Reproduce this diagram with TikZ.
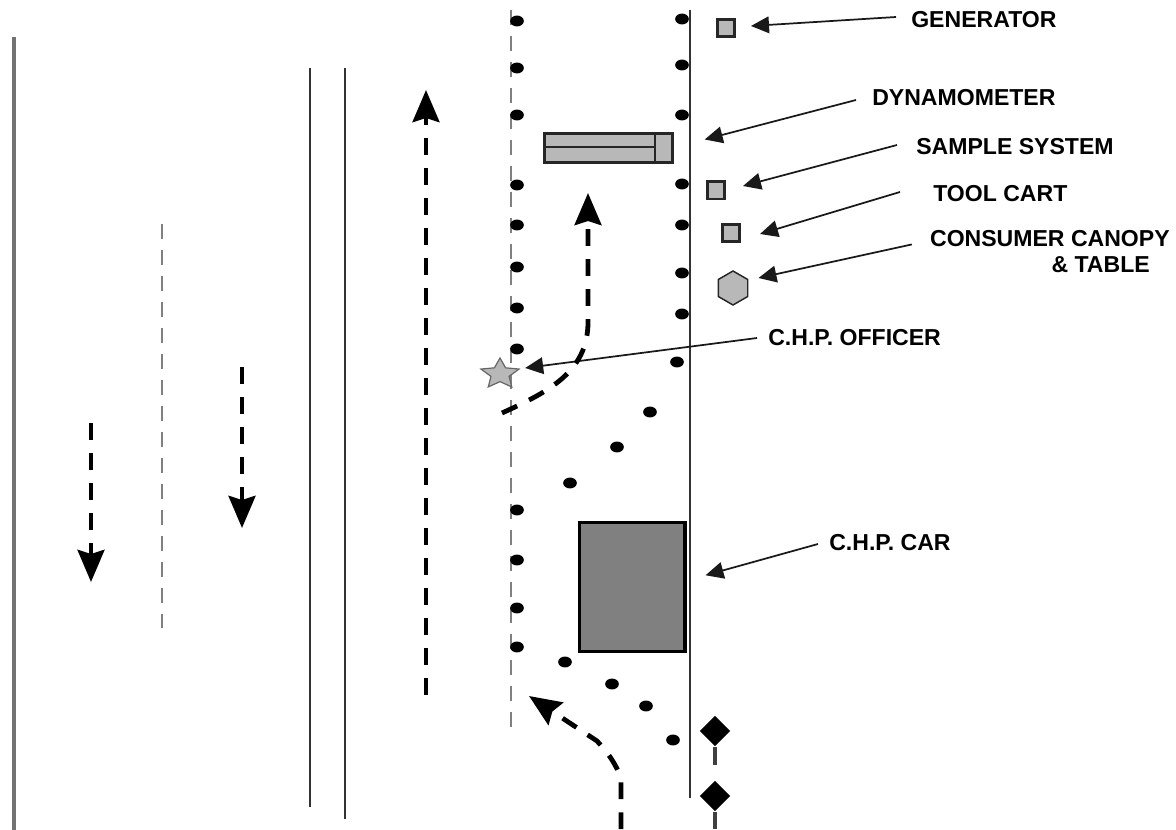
\documentclass[tikz,border=0pt]{standalone}
\usepackage{fontspec}
\setmainfont{Liberation Sans}
\usetikzlibrary{arrows.meta,shapes.geometric}
\definecolor{fillgray}{gray}{0.72}
\definecolor{cargray}{gray}{0.5}
\definecolor{dashgray}{gray}{0.5}
\tikzset{
  x=0.75pt,y=-0.75pt,
  lbl/.style={font=\bfseries\fontsize{17.3pt}{19.5pt}\selectfont,inner sep=0pt,align=left},
  dot/.style={circle,fill=black,minimum size=8.2pt,inner sep=0pt,xscale=1.25},
  road/.style={draw=black!80,line width=1.3pt},
  laneline/.style={draw=dashgray,line width=0.8pt,dash pattern=on 11pt off 8.5pt},
  pointer/.style={draw=black!90,line width=1.3pt,-{Triangle[length=13.5pt,width=12.5pt]}},
  flow/.style={draw=black,line width=3.6pt,dash pattern=on 12.5pt off 10pt,-{Stealth[length=24pt,width=20pt,inset=3pt]}},
  box/.style={draw=black!85,fill=fillgray,line width=2pt,inner sep=0pt,minimum size=13pt},
  diam/.style={diamond,fill=black,inner sep=0pt,minimum width=23pt,minimum height=23pt},
  stem/.style={draw=black!75,line width=3.4pt},
}
\begin{document}
\begin{tikzpicture}
\useasboundingbox (0,0) rectangle (1176,830);
% road lines
\coordinate (a1) at (14,37); \coordinate (a2) at (14,830);
\coordinate (b1) at (310,68); \coordinate (b2) at (310,807);
\coordinate (c1) at (345,68); \coordinate (c2) at (345,819);
\coordinate (d1) at (690,10); \coordinate (d2) at (690,798);
\coordinate (e1) at (511,10); \coordinate (e2) at (511,730);
\coordinate (f1) at (162,224); \coordinate (f2) at (162,628);
\draw[draw=black!55,line width=2.6pt] (a1) -- (a2);
\draw[road] (b1) -- (b2);
\draw[road] (c1) -- (c2);
\draw[road,line width=1.9pt] (d1) -- (d2);
\draw[laneline] (e1) -- (e2);
\draw[laneline] (f1) -- (f2);
% traffic cones
\foreach \n/\x/\y in {l1/517/21,l2/517/68,l3/517/115,l4/517/185,l5/517/225,l6/517/267,l7/517/308,l8/517/349,
 l9/517/510,l10/517/560,l11/517/608,l12/517/647,
 r1/682/19,r2/682/65,r3/682/115,r4/682/184,r5/682/225,r6/682/273,r7/682/314,
 r8/677/362,r9/650/412,r10/617/447,r11/570/483,
 s1/565/662,s2/612/684,s3/646/706,s4/673/740}
  \node[dot] (\n) at (\x,\y) {};
% dynamometer
\node[box,minimum width=96pt,minimum height=22pt,anchor=north west] (dyn) at (543,132) {};
\coordinate (dynA) at (543,147); \coordinate (dynB) at (655,147);
\coordinate (dynC) at (655,132); \coordinate (dynD) at (655,161);
\draw[black!85,line width=2.2pt] (dynA) -- (dynB);
\draw[black!85,line width=2.2pt] (dynC) -- (dynD);
% equipment
\node[box] (gen) at (726,28) {};
\node[box] (sam) at (716,190.5) {};
\node[box] (tool) at (731,233) {};
\node[regular polygon,regular polygon sides=6,shape border rotate=30,draw=black!85,fill=fillgray,line width=1.1pt,inner sep=0pt,minimum size=25.5pt] (hex) at (733,288) {};
\node[star,star points=5,star point ratio=2.1,draw=black!60,fill=fillgray,line width=0.9pt,inner sep=0pt,minimum size=30pt,yscale=0.8] (off) at (500,374) {};
\node[rectangle,draw=black,fill=cargray,line width=2.4pt,minimum width=79pt,minimum height=97pt,inner sep=0pt,anchor=north west] (car) at (578,520.5) {};
% diamonds
\node[diam] (k1) at (715,731) {};
\node[diam] (k2) at (715,796) {};
\coordinate (k1e) at (715,765); \coordinate (k2e) at (715,829);
\draw[stem] (k1) -- (k1e);
\draw[stem] (k2) -- (k2e);
% labels
\node[lbl,anchor=west] (tgen) at (911,19.5) {GENERATOR};
\node[lbl,anchor=west] (tdyn) at (872,98) {DYNAMOMETER};
\node[lbl,anchor=west] (tsam) at (916,146.5) {SAMPLE SYSTEM};
\node[lbl,anchor=west] (ttool) at (933,194) {TOOL CART};
\node[lbl,anchor=north east,align=right] (tcan) at (1170,230) {CONSUMER CANOPY\\\& TABLE\hspace*{15pt}};
\node[lbl,anchor=west] (toff) at (768,338) {C.H.P. OFFICER};
\node[lbl,anchor=west] (tcar) at (829,543) {C.H.P. CAR};
% pointers
\draw[pointer] ([shift={(-15,-2.5)}]tgen.west) -- ([shift={(15,-2)}]gen.east);
\draw[pointer] ([shift={(-16,2)}]tdyn.west) -- ([shift={(31,-8.5)}]dyn.east);
\draw[pointer] ([shift={(-19,-1.5)}]tsam.west) -- ([shift={(17,-4.5)}]sam.east);
\draw[pointer] ([shift={(-33,-2)}]ttool.west) -- ([shift={(19,1)}]tool.east);
\draw[pointer] ([shift={(-18,-7)}]tcan.west) -- ([shift={(10,-10)}]hex.east);
\draw[pointer] ([shift={(-11,0)}]toff.west) -- ([shift={(12,-6)}]off.east);
\draw[pointer] ([shift={(-11,1)}]tcar.west) -- ([shift={(19,-11.5)}]car.east);
% traffic flow
\coordinate (f1a) at (91,423); \coordinate (f1b) at (91,582);
\coordinate (f2a) at (242,367); \coordinate (f2b) at (242,528);
\coordinate (f3a) at (426,695); \coordinate (f3b) at (426,90);
\coordinate (f4a) at (502,413); \coordinate (f4b) at (588,193);
\coordinate (f5a) at (621,829); \coordinate (f5b) at (529,696);
\draw[flow] (f1a) -- (f1b);
\draw[flow] (f2a) -- (f2b);
\draw[flow] (f3a) -- (f3b);
\draw[flow] (f4a) .. controls (548,392) and (588,372) .. (588,322) -- (f4b);
\draw[flow] (f5a) -- (621,778) .. controls (616,765) and (610,755) .. (597,741) -- (f5b);
\end{tikzpicture}
\end{document}
